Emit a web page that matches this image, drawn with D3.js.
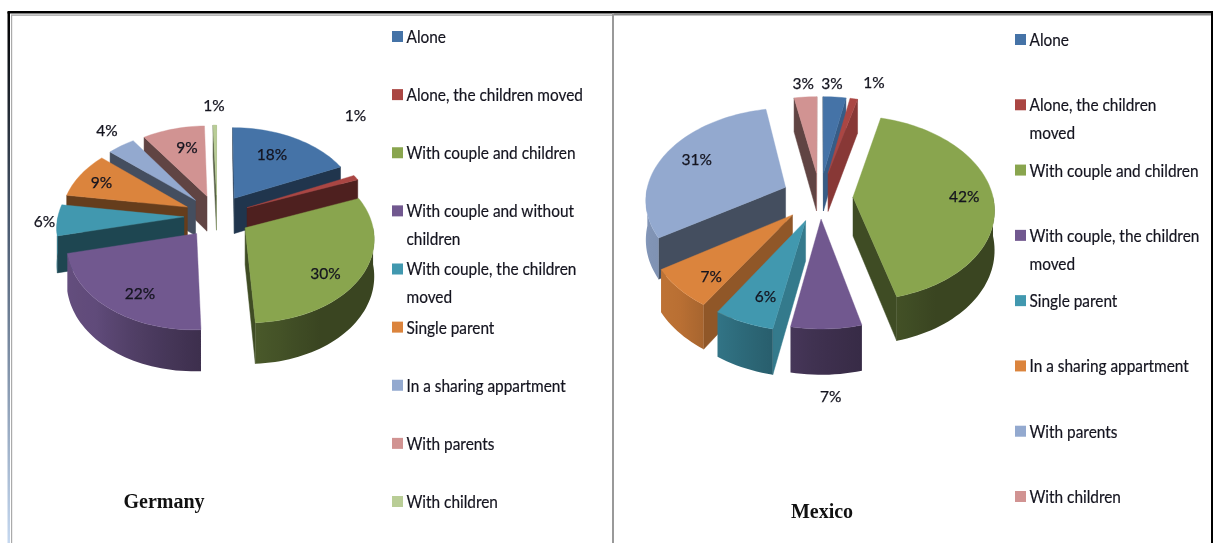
<!DOCTYPE html>
<html><head><meta charset="utf-8">
<script src="https://cdn.jsdelivr.net/npm/d3@7/dist/d3.min.js"></script>
<style>html,body{margin:0;padding:0;background:#fff}svg{display:block;filter:blur(.35px)}</style>
</head><body><svg id="c" width="1213" height="543"></svg>
<script>
// ---- data ----
const germanyCategories = ["Alone","Alone, the children moved","With couple and children","With couple and without children","With couple, the children moved","Single parent","In a sharing appartment","With parents","With children"];
const germanyValues = [18,1,30,22,6,9,4,9,0.5]; // last slice is a hairline in the picture, printed as 1%
const germanyLabels = ["18%","1%","30%","22%","6%","9%","4%","9%","1%"];
const mexicoCategories = ["Alone","Alone, the children moved","With couple and children","With couple, the children moved","Single parent","In a sharing appartment","With parents","With children"];
const mexicoValues = [3,1,42,7,6,7,31,3];
const mexicoLabels = ["3%","1%","42%","7%","6%","7%","31%","3%"];
const palette = ["#4573a7","#aa4643","#89a54e","#71588f","#4198af","#db843d","#93a9cf","#d19392","#b9cd96"];
// label placement in pie-plane polar form: [bearing degrees, radius multiple]
const germanyLabelPolar = [[30,.95],[41.8,1.9],[129,1.03],[213,1.02],[266.9,1.36],[294,1.05],[320,1.53],[344,.95],[359,1.58]];
const mexicoLabelPolar = [[3.9,1.47],[17,1.55],[90,1.03],[178,1.74],[199.5,1.03],[221.6,1.06],[294.8,1.02],[354.5,1.47]];
// legend wrapping
const germanyLegendLines = [["Alone"],["Alone, the children moved"],["With couple and children"],["With couple and without","children"],["With couple, the children","moved"],["Single parent"],["In a sharing appartment"],["With parents"],["With children"]];
const mexicoLegendLines = [["Alone"],["Alone, the children","moved"],["With couple and children"],["With couple, the children","moved"],["Single parent"],["In a sharing appartment"],["With parents"],["With children"]];

const svg = d3.select("#c");
const defs = svg.append("defs");
const fade = defs.append("linearGradient").attr("id","leftfade").attr("x1",0).attr("x2",0).attr("y1",0).attr("y2",1);
fade.append("stop").attr("offset","0").attr("stop-color","#000");
fade.append("stop").attr("offset","0.4").attr("stop-color","#4a5a70");
fade.append("stop").attr("offset","1").attr("stop-color","#c5d8f0");

// frames
svg.append("rect").attr("x",7.5).attr("y",12).attr("width",2.5).attr("height",531).attr("fill","url(#leftfade)");
svg.append("rect").attr("x",7.5).attr("y",11).attr("width",1205.5).attr("height",2.5).attr("fill","#000");
svg.append("rect").attr("x",11).attr("y",14.5).attr("width",601).attr("height",1.2).attr("fill","#999");
svg.append("rect").attr("x",11).attr("y",15).attr("width",1.2).attr("height",528).attr("fill","#aaa");
svg.append("rect").attr("x",612).attr("y",13).attr("width",2).attr("height",530).attr("fill","#999");
svg.append("rect").attr("x",614).attr("y",13.5).attr("width",597).attr("height",2).attr("fill","#888");
svg.append("rect").attr("x",1211).attr("y",11).attr("width",2).attr("height",532).attr("fill","#000");

const rad = Math.PI/180;
const arcShade = d3.scaleLinear().domain([0,150,180,200,225,270,360]).range([.42,.42,.55,.68,.85,.9,.9]);
const radialShade = d3.scaleLinear().domain([0,110,140,360]).range([.8,.8,.46,.46]).clamp(true);
const dark = (c,s)=>d3.interpolateRgb("#000",c)(s);
let gid=0;

function drawPie(o){
  const g = svg.append("g");
  const pie = d3.pie().sort(null).value(d=>d)(o.values);
  const R=o.R, a=o.a, p=o.p;
  const X = d3.scaleLinear().domain([0,1]).range([0,R]);
  function proj(px,py,h){
    const s = 1/(1-p*py/R);
    return [o.cx+px*s, o.cy+a*py*s+h*s];
  }
  const line = d3.line();
  const slices = pie.map((d,i)=>{
    const t0=d.startAngle, t1=d.endAngle, mid=(t0+t1)/2;
    const e=o.explode[i];
    return {i,t0,t1,mid,ox:Math.sin(mid)*e,oy:-Math.cos(mid)*e};
  });
  slices.sort((u,v)=>o.order.indexOf(u.i)-o.order.indexOf(v.i));
  slices.forEach(sl=>{
    const col=palette[sl.i];
    const P=(t,r,h)=>proj(sl.ox+Math.sin(t)*r,sl.oy-Math.cos(t)*r,h);
    const n=Math.max(4,Math.ceil((sl.t1-sl.t0)/rad/2));
    const ts=d3.range(n+1).map(k=>sl.t0+(sl.t1-sl.t0)*k/n);
    const sg=g.append("g");
    // radial walls facing the viewer
    [[sl.t0,-90],[sl.t1,90]].forEach(([t,dn])=>{
      const A=P(t,0,0),B=P(t,R,0),C=P(t,R,o.depth),D=P(t,0,o.depth);
      const area=d3.polygonArea([A,B,C,D]);
      const facing = dn<0 ? area>0 : area<0;
      if(facing){
        const nb=((t/rad+dn)%360+360)%360;
        const c=dark(col,radialShade(nb));
        sg.append("path").attr("d",line([A,B,C,D])+"Z").attr("fill",c).attr("stroke",c).attr("stroke-width",.5);
      }
    });
    // curved outer wall, one path with a gradient along it
    const lo=Math.max(sl.t0,90*rad), hi=Math.min(sl.t1,270*rad);
    if(hi>lo){
      const m=Math.max(3,Math.ceil((hi-lo)/rad/2));
      const ws=d3.range(m+1).map(k=>lo+(hi-lo)*k/m);
      const id="wall"+(gid++);
      const x0=P(lo,R,0)[0], x1=P(hi,R,0)[0];
      const gr=defs.append("linearGradient").attr("id",id).attr("gradientUnits","userSpaceOnUse")
        .attr("x1",x0).attr("x2",x1).attr("y1",0).attr("y2",0);
      const xs=d3.scaleLinear().domain([x0,x1]).range([0,1]);
      ws.filter((w,k)=>k%3==0||k==m).forEach(w=>{
        gr.append("stop").attr("offset",Math.max(0,Math.min(1,xs(P(w,R,0)[0])))).attr("stop-color",dark(col,arcShade(w/rad)));
      });
      const pts=ws.map(w=>P(w,R,0)).concat(ws.slice().reverse().map(w=>P(w,R,o.depth)));
      sg.append("path").attr("d",line(pts)+"Z").attr("fill",`url(#${id})`);
    }
    // top face
    const top=[P(0,0,0)].concat(ts.map(t=>P(t,R,0)));
    sg.append("path").attr("d",line(top)+"Z").attr("fill",col).attr("stroke",col).attr("stroke-width",.4);
  });
  // value labels
  o.labelText.forEach((txt,i)=>{
    const [deg,f]=o.labels[i];
    const pt=proj(Math.sin(deg*rad)*X(f),-Math.cos(deg*rad)*X(f),0);
    g.append("text").attr("x",pt[0]).attr("y",pt[1]).attr("dy","0.35em").attr("text-anchor","middle")
      .attr("font-family","Lato, 'Open Sans', sans-serif").attr("font-size",15.5).attr("fill","#14141f")
      .attr("stroke","#14141f").attr("stroke-width",.25).text(txt);
  });
  // legend
  const yS=d3.scalePoint().domain(d3.range(o.values.length)).range(o.legendY);
  o.legend.forEach((lines,i)=>{
    const y=yS(i);
    g.append("rect").attr("x",o.legendX).attr("y",y-6).attr("width",11).attr("height",11).attr("fill",palette[i]);
    lines.forEach((t,j)=>{
      g.append("text").attr("transform",`translate(${o.legendX+14.5},${y+j*o.legendLead}) scale(.905,1)`).attr("dy","0.35em")
        .attr("font-family","Lato, 'Open Sans', sans-serif").attr("font-size",o.legendSize).attr("fill","#14141f")
        .attr("stroke","#14141f").attr("stroke-width",.2).text(t);
    });
  });
  g.append("text").attr("x",o.titleX).attr("y",o.titleY).attr("dy","0.35em").attr("text-anchor","middle")
    .attr("font-family","'Liberation Serif', serif").attr("font-weight","bold").attr("font-size",20).attr("fill","#111").text(o.title);
}

drawPie({title:"Germany",values:germanyValues,labelText:germanyLabels,legend:germanyLegendLines,labels:germanyLabelPolar,
  cx:217,cy:216,R:126,a:.65,p:.108,depth:36,explode:germanyValues.map(()=>33),
  order:[8,7,0,6,1,5,4,3,2],
  legendX:392,legendY:[37,502],legendLead:28,legendSize:17,titleX:164,titleY:501});
drawPie({title:"Mexico",values:mexicoValues,labelText:mexicoLabels,legend:mexicoLegendLines,labels:mexicoLabelPolar,
  cx:820,cy:197,R:140,a:.65,p:.12,depth:39,explode:[38,38,33,33,38,38,38,38],
  order:[7,0,1,6,2,5,4,3],
  legendX:1015,legendY:[40,497],legendLead:28,legendSize:17,titleX:822,titleY:511});
</script></body></html>
